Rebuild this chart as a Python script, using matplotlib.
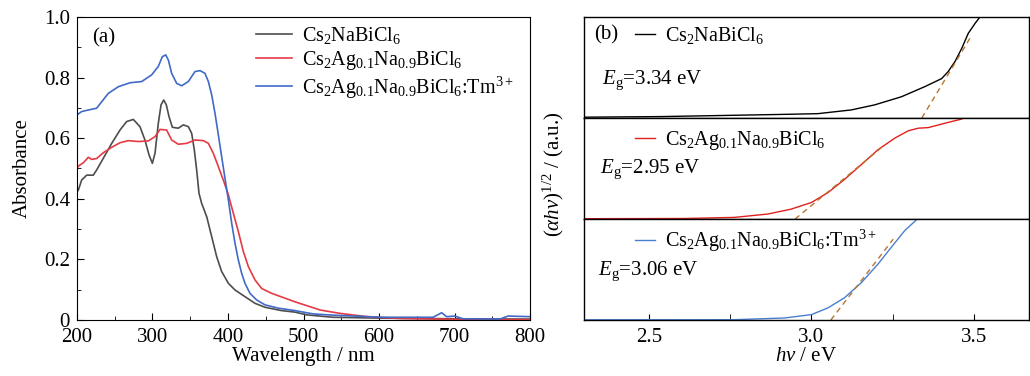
# UV-vis absorbance (a) and Tauc plots (b)
import numpy as np
import matplotlib
matplotlib.use("Agg")
import matplotlib.pyplot as plt
from matplotlib.ticker import MultipleLocator, FuncFormatter

plt.rcParams['font.family'] = ['Liberation Serif', 'DejaVu Serif']
plt.rcParams['mathtext.fontset'] = 'custom'
plt.rcParams['mathtext.rm'] = 'Liberation Serif'
plt.rcParams['mathtext.it'] = 'Liberation Serif:italic'
plt.rcParams['font.size'] = 15

labels = [r'Cs$_2$NaBiCl$_6$',
          r'Cs$_2$Ag$_{0.1}$Na$_{0.9}$BiCl$_6$',
          r'Cs$_2$Ag$_{0.1}$Na$_{0.9}$BiCl$_6$:Tm$^{3+}$']

# ---- (a) absorbance spectra ----
wl_na = [200, 201.8, 206.2, 212.8, 221.6, 226, 234.9, 246, 257, 265.8, 274.6, 283.4, 290, 295.4,
         299.8, 303.3, 307.7, 311.3, 314.8, 318.3, 321.9, 326.3, 334.2, 340.8, 347.5, 351.9,
         355.4, 358.5, 361.6, 365.1, 371.8, 378.4, 385, 391.6, 400.5, 409.3, 422.5, 435.8,
         449, 471, 488.8, 504, 539, 605, 700, 800]
ab_na = [0.423, 0.429, 0.462, 0.478, 0.478, 0.495, 0.534, 0.583, 0.627, 0.655, 0.662, 0.638, 0.594, 0.545,
         0.517, 0.55, 0.649, 0.71, 0.726, 0.71, 0.671, 0.636, 0.633, 0.644, 0.638, 0.616,
         0.561, 0.495, 0.418, 0.385, 0.341, 0.275, 0.209, 0.16, 0.121, 0.099, 0.077, 0.055,
         0.042, 0.031, 0.026, 0.017, 0.009, 0.006, 0.004, 0.003]

wl_ag = [200, 201.8, 208.4, 215, 219.5, 226, 234.9, 246, 257, 268, 281.2, 294.4, 303.3, 310,
         318.7, 325.4, 334.2, 345.3, 356.3, 367.3, 374, 380.6, 387.2, 393.8, 400.5, 407.1,
         413.7, 420.3, 427, 435.8, 444.6, 457.8, 488.8, 522, 548, 583.7, 627.8, 700, 800]
ab_ag = [0.50, 0.508, 0.519, 0.537, 0.53, 0.533, 0.552, 0.57, 0.585, 0.592, 0.589, 0.591, 0.605, 0.629,
         0.627, 0.594, 0.58, 0.583, 0.594, 0.592, 0.583, 0.55, 0.506, 0.462, 0.413, 0.352,
         0.292, 0.226, 0.176, 0.132, 0.104, 0.088, 0.06, 0.033, 0.022, 0.011,
         0.005, 0.002, 0.001]

wl_tm = [200, 206.2, 215, 226, 232.6, 241.5, 254.8, 270.2, 285.7, 298.9, 307.7, 313, 317.5, 321,
         325.4, 332, 338.6, 347.5, 356.3, 363, 369.5, 374, 378.4, 382.8, 387.2, 391.6, 396,
         400.5, 404.9, 409.3, 413.7, 418.1, 422.5, 429.1, 438, 449, 466.7, 488.8, 513, 539,
         605, 671.6, 683, 689.5, 700.6, 711, 760, 771, 800]
ab_tm = [0.677, 0.688, 0.693, 0.699, 0.72, 0.748, 0.77, 0.783, 0.787, 0.809, 0.837, 0.869, 0.875, 0.858,
         0.814, 0.781, 0.773, 0.787, 0.82, 0.823, 0.814, 0.787, 0.743, 0.682, 0.611, 0.539, 0.468,
         0.396, 0.319, 0.253, 0.198, 0.154, 0.121, 0.088, 0.066, 0.05, 0.039, 0.031, 0.02, 0.016,
         0.009, 0.009, 0.024, 0.011, 0.013, 0.004, 0.003, 0.013, 0.011]

# ---- (b) Tauc plots: (alpha h nu)^1/2, arbitrary units ----
ev_na = [2.30, 2.537, 2.917, 3.02, 3.123, 3.195, 3.277, 3.349, 3.401, 3.421, 3.442, 3.463,
         3.483, 3.504, 3.519, 3.54]
tc_na = [0.008, 0.014, 0.036, 0.043, 0.08, 0.13, 0.21, 0.31, 0.39, 0.459, 0.558, 0.69,
         0.838, 0.937, 1.0, 1.08]
ev_ag = [2.30, 2.609, 2.763, 2.866, 2.938, 3.0, 3.051, 3.102, 3.154, 3.205, 3.257, 3.298,
         3.329, 3.36, 3.411, 3.463]
tc_ag = [0.003, 0.005, 0.016, 0.049, 0.098, 0.163, 0.261, 0.392, 0.539, 0.686, 0.801, 0.873,
         0.899, 0.905, 0.948, 0.99]
ev_tm = [2.30, 2.763, 2.917, 3.0, 3.051, 3.102, 3.154, 3.205, 3.246, 3.288, 3.324, 3.34]
tc_tm = [0.002, 0.003, 0.02, 0.053, 0.12, 0.22, 0.37, 0.553, 0.72, 0.887, 0.993, 1.04]

# linear fits: band gap intercept and end point of the dashed line
eg = [3.34, 2.95, 3.06]
fit_end = [(3.494, 0.82), (3.217, 0.71), (3.252, 0.80)]

col_a = ['#4d4d4d', '#e63a44', '#4169c8']
col_b = ['#000000', '#e0201e', '#4a7fd0']
fit_col = '#b8752e'

fig = plt.figure(figsize=(10.3, 3.76), dpi=100)

# panel (a)
ax = fig.add_axes([77/1030, 56/376, 453/1030, 303/376])
for wl, ab, c, lab in zip([wl_na, wl_ag, wl_tm], [ab_na, ab_ag, ab_tm], col_a, labels):
    ax.plot(wl, ab, color=c, lw=1.2, label=lab)
ax.set_xlim(200, 800)
ax.set_ylim(0, 1.0)
ax.xaxis.set_major_locator(MultipleLocator(100))
ax.xaxis.set_minor_locator(MultipleLocator(50))
ax.yaxis.set_major_locator(MultipleLocator(0.2))
ax.yaxis.set_minor_locator(MultipleLocator(0.1))
ax.yaxis.set_major_formatter(FuncFormatter(lambda v, p: '0' if abs(v) < 1e-9 else '%.1f' % v))
ax.tick_params(which='both', direction='in', top=False, right=False)
ax.tick_params(which='major', length=5)
ax.tick_params(which='minor', length=3)
ax.tick_params(axis='y', pad=5)
ax.tick_params(axis='x', pad=6)
ax.set_xlabel('Wavelength / nm', labelpad=0)
ax.set_ylabel('Absorbance', labelpad=9)
ax.text(0.033, 0.93, '(a)', transform=ax.transAxes, va='center', ha='left')
ax.legend(loc='upper left', bbox_to_anchor=(0.395, 0.972), frameon=False, fontsize=14.5,
          handlelength=1.8, handletextpad=0.5, labelspacing=0.12, borderpad=0, borderaxespad=0)

# panel (b)
h = 303/3
axs = [fig.add_axes([584/1030, (56 + (2 - i)*h)/376, 445/1030, h/376]) for i in range(3)]
leg_y = [0.82, 0.78, 0.78]
eg_pos = [(0.04, 0.376), (0.036, 0.49), (0.031, 0.48)]
for i, (a, ev, tc) in enumerate(zip(axs, [ev_na, ev_ag, ev_tm], [tc_na, tc_ag, tc_tm])):
    a.plot(ev, tc, color=col_b[i], lw=1.0, label=labels[i])
    a.plot([eg[i], fit_end[i][0]], [0, fit_end[i][1]], ls=(0, (4, 3)), color=fit_col, lw=1.0)
    a.set_xlim(2.3, 3.67)
    a.set_ylim(0, 1.0)
    a.set_yticks([])
    a.xaxis.set_major_locator(MultipleLocator(0.5))
    a.xaxis.set_minor_locator(MultipleLocator(0.25))
    a.tick_params(which='both', direction='in', top=False, length=4, pad=6)
    if i < 2:
        a.tick_params(which='both', bottom=False, labelbottom=False)
    a.legend(loc='center left', bbox_to_anchor=(0.115, leg_y[i]), frameon=False, fontsize=14.5,
             handlelength=1.0, handletextpad=0.5, borderpad=0, borderaxespad=0)
    a.text(eg_pos[i][0], eg_pos[i][1], r'$E_\mathrm{g}$=%.2f eV' % eg[i],
           transform=a.transAxes, va='center', ha='left')
    for s in a.spines.values():
        s.set_linewidth(1.0)
axs[0].text(0.022, 0.82, '(b)', transform=axs[0].transAxes, va='center', ha='left')
axs[2].xaxis.set_major_formatter(FuncFormatter(lambda v, p: '%.1f' % v))
axs[2].set_xlabel(r'$h\nu$ / eV', labelpad=0)
fig.text(553/1030, 1 - 174/376, r'$(\alpha h\nu)^{1/2}$ / (a.u.)', rotation=90,
         va='center', ha='center')

fig.savefig('out.png', dpi=100)
